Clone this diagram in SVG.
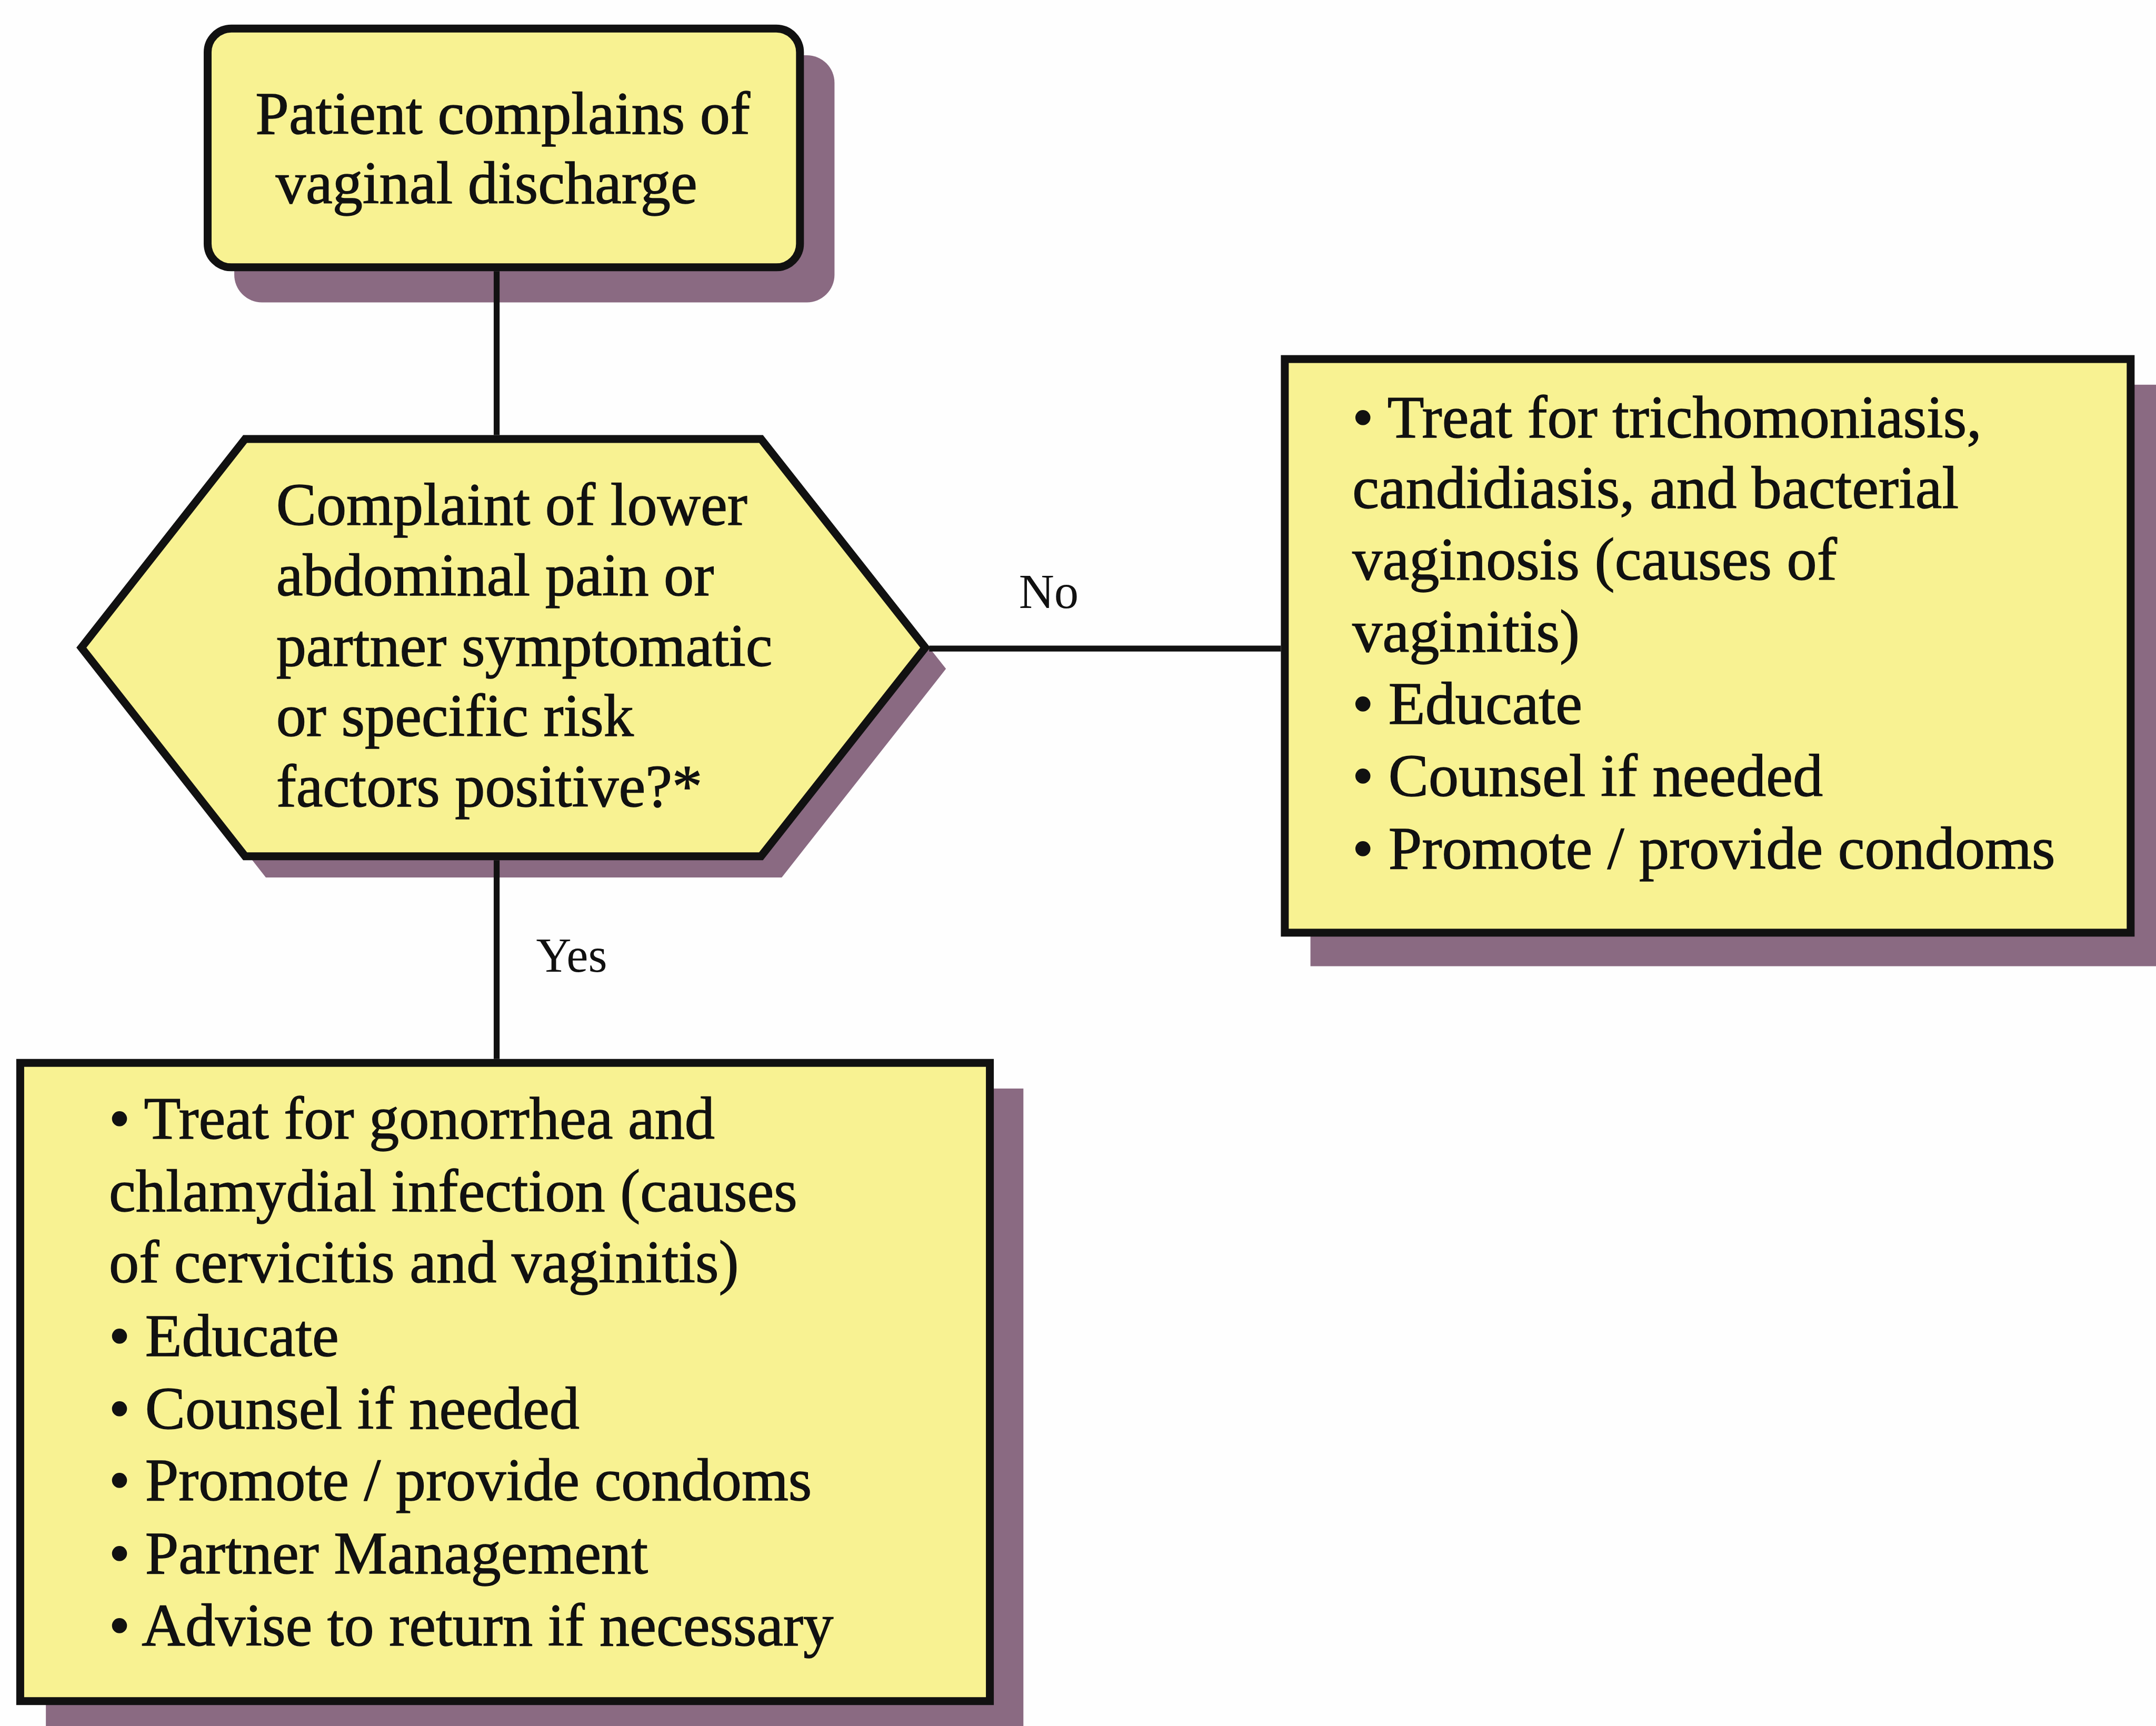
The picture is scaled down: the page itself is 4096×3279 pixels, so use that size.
<svg xmlns="http://www.w3.org/2000/svg" width="4096" height="3279" viewBox="0 0 4096 3279">
  <defs>
    <style>
      .shadow { fill: #8a6a82; stroke: none; }
      .node { fill: #f8f292; stroke: #111; stroke-width: 16; stroke-linejoin: miter; }
      .txt { font-family: "Liberation Serif", "Times New Roman", serif; font-size: 122px; fill: #111; stroke: #111; stroke-width: 1.5; }
      .lbl { font-family: "Liberation Serif", "Times New Roman", serif; font-size: 99px; fill: #111; }
      .conn { stroke: #111; stroke-width: 12; fill: none; }
    </style>
  </defs>
  <rect x="0" y="0" width="4096" height="3279" fill="#fefefe"/>
  <g transform="scale(0.937)">
    <g id="node-start">
      <rect class="shadow" x="475" y="112" width="1217" height="501" rx="56"/>
      <rect class="node" x="421" y="58" width="1201" height="484" rx="48"/>
      <text class="txt" x="518" y="271">Patient complains of</text>
      <text class="txt" x="559" y="412">vaginal discharge</text>
    </g>
    <g id="node-decision">
      <polygon class="shadow" points="207,1356 539,934 1585,934 1918,1356 1585,1779 539,1779"/>
      <polygon class="node" points="165,1313 497,890 1543,890 1876,1313 1543,1736 497,1736"/>
      <text class="txt" x="560" y="1064">Complaint of lower</text>
      <text class="txt" x="560" y="1207">abdominal pain or</text>
      <text class="txt" x="560" y="1350">partner symptomatic</text>
      <text class="txt" x="560" y="1492">or specific risk</text>
      <text class="txt" x="560" y="1635">factors positive?*</text>
    </g>
    <g id="node-no">
      <rect class="shadow" x="2657" y="780" width="1730" height="1179"/>
      <rect class="node" x="2605" y="728" width="1715" height="1163"/>
      <text class="txt" x="2742" y="887">• Treat for trichomoniasis,</text>
      <text class="txt" x="2742" y="1030">candidiasis, and bacterial</text>
      <text class="txt" x="2742" y="1175">vaginosis (causes of</text>
      <text class="txt" x="2742" y="1321">vaginitis)</text>
      <text class="txt" x="2742" y="1467">• Educate</text>
      <text class="txt" x="2742" y="1614">• Counsel if needed</text>
      <text class="txt" x="2742" y="1761">• Promote / provide condoms</text>
    </g>
    <g id="node-yes">
      <rect class="shadow" x="93" y="2207" width="1982" height="1320"/>
      <rect class="node" x="41" y="2155" width="1966" height="1294"/>
      <text class="txt" x="221" y="2308">• Treat for gonorrhea and</text>
      <text class="txt" x="221" y="2456">chlamydial infection (causes</text>
      <text class="txt" x="221" y="2600">of cervicitis and vaginitis)</text>
      <text class="txt" x="221" y="2749">• Educate</text>
      <text class="txt" x="221" y="2896">• Counsel if needed</text>
      <text class="txt" x="221" y="3042">• Promote / provide condoms</text>
      <text class="txt" x="221" y="3190">• Partner Management</text>
      <text class="txt" x="221" y="3336">• Advise to return if necessary</text>
    </g>
    <g id="connectors">
      <line class="conn" x1="1007" y1="550" x2="1007" y2="882"/>
      <line class="conn" x1="1007" y1="1744" x2="1007" y2="2147"/>
      <line class="conn" x1="1884" y1="1315" x2="2597" y2="1315"/>
      <text class="lbl" x="2066" y="1233">No</text>
      <text class="lbl" x="1087" y="1970">Yes</text>
    </g>
  </g>
</svg>
